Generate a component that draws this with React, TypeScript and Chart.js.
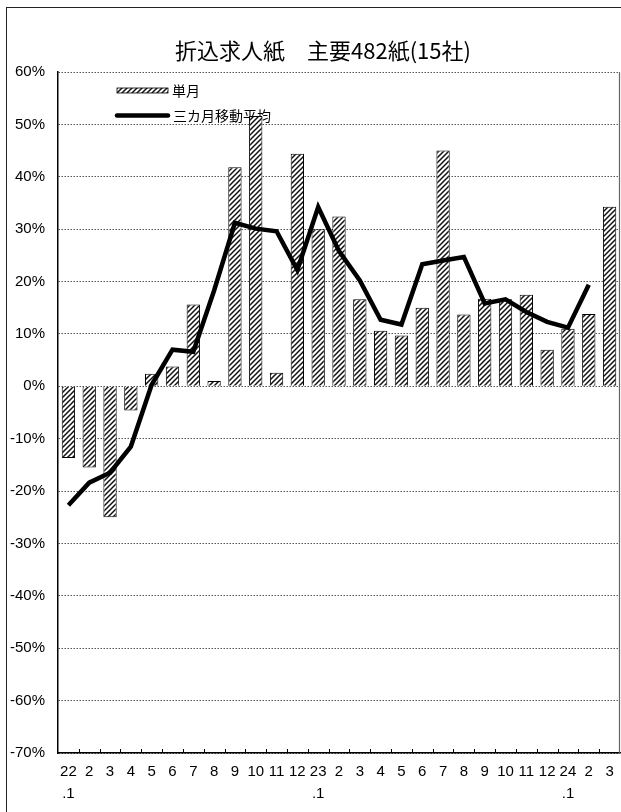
import React, { useEffect, useRef } from "react";
import { Chart, registerables } from "chart.js";

Chart.register(...registerables);

const categories: (string | string[])[] = [
  ["22", ".1"], "2", "3", "4", "5", "6", "7", "8", "9", "10", "11", "12",
  ["23", ".1"], "2", "3", "4", "5", "6", "7", "8", "9", "10", "11", "12",
  ["24", ".1"], "2", "3",
];

const monthly: number[] = [
  -13.7, -15.5, -25.0, -4.6, 2.4, 3.8, 15.6, 1.0, 41.8, 51.6, 2.6, 44.4,
  30.0, 32.4, 16.6, 10.6, 9.7, 15.0, 45.0, 13.7, 16.7, 16.6, 17.5, 7.0,
  11.0, 13.8, 34.3,
];

const movingAvg: (number | null)[] = [
  -22.7, -18.4, -16.5, -11.5, 0.3, 7.0, 6.6, 18.3, 31.2, 30.1, 29.6, 22.2,
  34.2, 25.8, 20.2, 12.7, 11.8, 23.3, 24.0, 24.7, 15.8, 16.6, 14.2, 12.3,
  11.2, 19.4, null,
];

const yMin = -70;
const yMax = 60;
const yStep = 10;

const seriesNames = ["単月", "三カ月移動平均"];
const chartTitle = "折込求人紙　主要482紙(15社)";

const CJK = '"Noto Sans CJK JP", "Noto Sans", sans-serif';
const LATIN = '"Liberation Sans Narrow", "Liberation Sans", Arial, sans-serif';

function makeHatch(ctx: CanvasRenderingContext2D): CanvasPattern | string {
  const n = 5;
  const c = document.createElement("canvas");
  c.width = n;
  c.height = n;
  const g = c.getContext("2d");
  if (!g) return "#aaa";
  g.fillStyle = "#ffffff";
  g.fillRect(0, 0, n, n);
  g.strokeStyle = "#111111";
  g.lineWidth = 1.5;
  g.beginPath();
  g.moveTo(0, n);
  g.lineTo(n, 0);
  g.moveTo(-1, 1);
  g.lineTo(1, -1);
  g.moveTo(n - 1, n + 1);
  g.lineTo(n + 1, n - 1);
  g.stroke();
  return ctx.createPattern(c, "repeat") || "#aaa";
}

export default function App() {
  const ref = useRef<HTMLCanvasElement>(null);

  useEffect(() => {
    document.body.style.margin = "0";
    document.body.style.overflow = "hidden";
    const canvas = ref.current;
    if (!canvas) return;
    const ctx0 = canvas.getContext("2d")!;
    const hatch = makeHatch(ctx0);

    const overlay = {
      id: "overlay",
      beforeDatasetsDraw(chart: any) {
        const ctx = chart.ctx as CanvasRenderingContext2D;
        ctx.save();
        ctx.fillStyle = hatch as any;
        ctx.fillRect(117, 88, 51, 5);
        ctx.strokeStyle = "#000";
        ctx.lineWidth = 0.8;
        ctx.strokeRect(117, 88, 51, 5);
        ctx.fillStyle = "#000";
        ctx.font = `14px ${CJK}`;
        ctx.textAlign = "left";
        ctx.textBaseline = "middle";
        ctx.fillText(seriesNames[0], 172, 91);
        ctx.strokeStyle = "#000";
        ctx.lineWidth = 4.5;
        ctx.lineCap = "round";
        ctx.beginPath();
        ctx.moveTo(117, 115.5);
        ctx.lineTo(168, 115.5);
        ctx.stroke();
        ctx.fillText(seriesNames[1], 173, 115.5);
        ctx.restore();
      },
      afterDatasetsDraw(chart: any) {
        const ctx = chart.ctx as CanvasRenderingContext2D;
        const xs = chart.scales.x;
        const area = chart.chartArea;
        ctx.save();
        ctx.strokeStyle = "#000";
        ctx.lineWidth = 1;
        ctx.beginPath();
        for (let i = 1; i < categories.length; i++) {
          const x = Math.round((xs.getPixelForValue(i - 1) + xs.getPixelForValue(i)) / 2) + 0.5;
          ctx.moveTo(x, area.bottom);
          ctx.lineTo(x, area.bottom - 4);
        }
        ctx.stroke();
        ctx.strokeStyle = "#666";
        ctx.lineWidth = 1.2;
        ctx.beginPath();
        ctx.moveTo(area.right - 0.5, area.top);
        ctx.lineTo(area.right - 0.5, area.bottom);
        ctx.stroke();
        ctx.restore();
      },
      afterDraw(chart: any) {
        const ctx = chart.ctx as CanvasRenderingContext2D;
        ctx.save();
        ctx.fillStyle = "#000";
        ctx.font = `22px ${CJK}`;
        ctx.textAlign = "center";
        ctx.textBaseline = "middle";
        ctx.fillText(chartTitle, 323, 51);
        ctx.restore();
      },
    };

    const chart = new Chart(canvas, {
      data: {
        labels: categories as any,
        datasets: [
          {
            type: "line",
            label: seriesNames[1],
            data: movingAvg,
            borderColor: "#000",
            borderWidth: 4.5,
            pointRadius: 0,
            tension: 0,
            spanGaps: false,
            borderJoinStyle: "miter",
            order: 0,
          } as any,
          {
            type: "bar",
            label: seriesNames[0],
            data: monthly,
            backgroundColor: hatch as any,
            borderColor: "#000",
            borderWidth: 1,
            barPercentage: 0.64,
            categoryPercentage: 1,
            order: 1,
          } as any,
        ],
      },
      options: {
        responsive: false,
        animation: false,
        layout: { padding: { top: 72, right: 1, bottom: 0, left: 0 } },
        plugins: {
          legend: { display: false },
          title: { display: false },
          tooltip: { enabled: false },
        },
        scales: {
          x: {
            type: "category",
            offset: true,
            grid: { display: false },
            border: { display: true, color: "#000", width: 1.5 },
            ticks: {
              autoSkip: false,
              maxRotation: 0,
              minRotation: 0,
              padding: 0,
              color: "#000",
              font: { family: LATIN, size: 15, lineHeight: 1.45 },
            },
            afterFit(scale: any) {
              scale.height = 59;
            },
          },
          y: {
            min: yMin,
            max: yMax,
            ticks: {
              stepSize: yStep,
              padding: 13,
              color: "#000",
              font: { family: LATIN, size: 15 },
              callback: (v: any) => `${v}%`,
            },
            grid: { color: "#555", lineWidth: 1, drawTicks: false },
            border: { display: true, color: "#000", width: 1.5, dash: [1.5, 1.5] },
            afterFit(scale: any) {
              scale.width = 58;
            },
          },
        },
      },
      plugins: [overlay],
    } as any);

    return () => chart.destroy();
  }, []);

  return (
    <div style={{ position: "relative", width: 621, height: 812, background: "#fff" }}>
      <canvas ref={ref} width={621} height={812} style={{ display: "block" }} />
      <div
        style={{
          position: "absolute",
          left: 6,
          top: 7,
          width: 615,
          height: 805,
          borderLeft: "1.5px solid #222",
          borderTop: "1.5px solid #222",
          pointerEvents: "none",
          boxSizing: "border-box",
        }}
      />
    </div>
  );
}
